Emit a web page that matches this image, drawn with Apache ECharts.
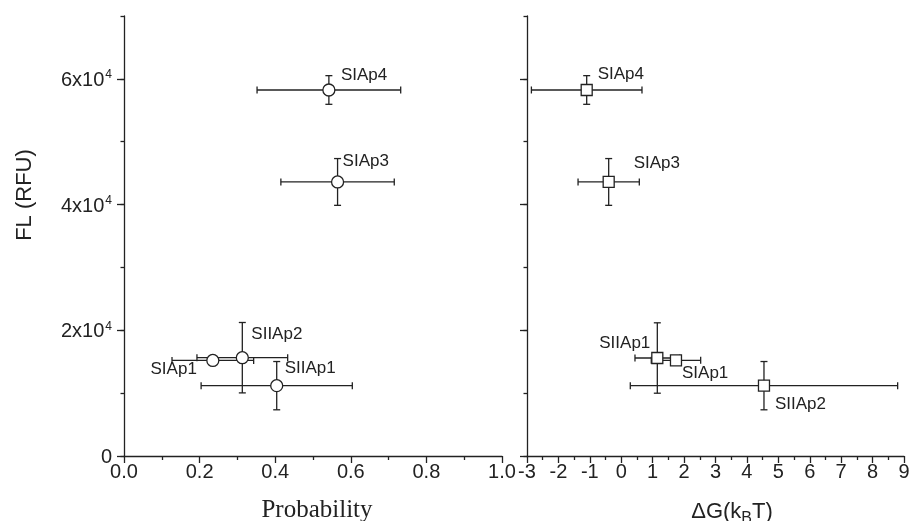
<!DOCTYPE html>
<html><head><meta charset="utf-8">
<script src="https://cdn.jsdelivr.net/npm/echarts@6/dist/echarts.min.js"></script>
<style>html,body{margin:0;padding:0;background:#fff}#c{width:910px;height:521px}</style>
</head><body><div id="c"></div>
<script>
// ---- data (left panel: Probability) ----
const namesL   = ['SIAp1', 'SIIAp2', 'SIIAp1', 'SIAp3', 'SIAp4'];
const probL    = [0.235, 0.313, 0.404, 0.565, 0.542];
const probErrL = [0.108, 0.120, 0.200, 0.150, 0.190];
const flL      = [15200, 15640, 11190, 43600, 58230];
const flErrL   = [300, 5600, 3840, 3720, 2280];
// ---- data (right panel: dG) ----
const namesR   = ['SIAp1', 'SIIAp1', 'SIIAp2', 'SIAp3', 'SIAp4'];
const dgR      = [1.742, 1.148, 4.543, -0.40, -1.10];
const dgErrR   = [0.786, 0.711, 4.255, 0.975, 1.760];
const flR      = [15220, 15590, 11190, 43600, 58230];
const flErrR   = [300, 5600, 3840, 3720, 2280];
// ---- tick values ----
const yMajorTicks = [0, 20000, 40000, 60000];

// ---- label placement (pixels relative to the marker) ----
const labelPlaceL = [[-16, 9, 'right'], [9, -23, 'left'], [8, -17, 'left'], [5, -21, 'left'], [12, -15, 'left']];
const labelPlaceR = [[6, 13, 'left'], [-7, -15, 'right'], [11, 19, 'left'], [25, -19, 'left'], [11, -16, 'left']];

const INK = '#222';
const SANS = 'Liberation Sans, Arial, sans-serif';
const SERIF = 'Liberation Serif, Times New Roman, serif';

function errRender(params, api) {
  const x = api.value(0), y = api.value(1), ex = api.value(2), ey = api.value(3);
  const l = api.coord([x - ex, y]), r = api.coord([x + ex, y]);
  const t = api.coord([x, y + ey]), b = api.coord([x, y - ey]);
  const cap = 3.5;
  const st = {stroke: INK, lineWidth: 1.3};
  const mk = (x1, y1, x2, y2) => ({type: 'line', shape: {x1, y1, x2, y2}, style: st});
  return {type: 'group', children: [
    mk(l[0], l[1], r[0], r[1]),
    mk(l[0], l[1] - cap, l[0], l[1] + cap),
    mk(r[0], r[1] - cap, r[0], r[1] + cap),
    mk(t[0], t[1], b[0], b[1]),
    mk(t[0] - cap, t[1], t[0] + cap, t[1]),
    mk(b[0] - cap, b[1], b[0] + cap, b[1])
  ]};
}

function yLabel(v) {
  if (v === 0) return '{a|0}';
  return '{a|' + (v / 10000) + 'x10}{s|4}';
}

function scatterData(names, xs, ys, place) {
  return names.map((n, i) => ({
    name: n, value: [xs[i], ys[i]],
    label: {offset: [place[i][0], place[i][1]], align: place[i][2]}
  }));
}

const axisLineStyle = {lineStyle: {color: INK, width: 1.3}};
const grids = [
  {left: 124, top: 16, width: 378, height: 440, outerBoundsMode: 'none', containLabel: false},
  {left: 527, top: 16, width: 377, height: 440, outerBoundsMode: 'none', containLabel: false}
];

function yAxes(gridIndex, withLabels) {
  return [
    {
      type: 'value', gridIndex, min: 0, max: 70000, position: 'left',
      axisLine: Object.assign({show: true, onZero: false}, axisLineStyle),
      splitLine: {show: false},
      axisTick: {show: true, customValues: yMajorTicks, length: 7, lineStyle: {color: INK, width: 1.3}},
      axisLabel: {
        show: withLabels, customValues: yMajorTicks, margin: 12, formatter: yLabel,
        rich: {
          a: {fontSize: 20, fontFamily: SANS, color: INK, lineHeight: 20, padding: [3, 0, 0, 0]},
          s: {fontSize: 12, fontFamily: SANS, color: INK, lineHeight: 12, verticalAlign: 'top', padding: [0, 0, 0, 1]}
        }
      },
      name: withLabels ? 'FL (RFU)' : '', nameLocation: 'middle', nameGap: 88,
      nameTextStyle: {fontSize: 22, fontFamily: SANS, color: INK, padding: [0, 0, 0, 82]}
    },
    {
      type: 'value', gridIndex, min: 0, max: 70000, interval: 10000, position: 'left',
      axisLine: {show: false, onZero: false}, splitLine: {show: false}, axisLabel: {show: false},
      axisTick: {show: true, length: 3.5, lineStyle: {color: INK, width: 1.3}}
    }
  ];
}

const option = {
  backgroundColor: '#fff',
  animation: false,
  grid: grids,
  xAxis: [
    {
      type: 'value', gridIndex: 0, min: 0, max: 1, interval: 0.2,
      axisLine: Object.assign({show: true, onZero: false}, axisLineStyle),
      splitLine: {show: false},
      axisTick: {show: true, length: 7, lineStyle: {color: INK, width: 1.3}},
      minorTick: {show: true, splitNumber: 2, length: 4, lineStyle: {color: INK, width: 1.3}},
      axisLabel: {fontSize: 20, fontFamily: SANS, color: INK, margin: 6, formatter: v => v.toFixed(1)},
      name: 'Probability', nameLocation: 'middle', nameGap: 42,
      nameTextStyle: {fontSize: 25, fontFamily: SERIF, color: INK, padding: [0, 0, 0, 8]}
    },
    {
      type: 'value', gridIndex: 1, min: -3, max: 9, interval: 1,
      axisLine: Object.assign({show: true, onZero: false}, axisLineStyle),
      splitLine: {show: false},
      axisTick: {show: true, length: 7, lineStyle: {color: INK, width: 1.3}},
      minorTick: {show: true, splitNumber: 2, length: 4, lineStyle: {color: INK, width: 1.3}},
      axisLabel: {fontSize: 20, fontFamily: SANS, color: INK, margin: 6},
      name: '{m|ΔG(k}{b|B}{m|T)}', nameLocation: 'middle', nameGap: 45,
      nameTextStyle: {
        padding: [0, 0, 0, 33],
        rich: {
          m: {fontSize: 22, fontFamily: SANS, color: INK, lineHeight: 22, verticalAlign: 'top'},
          b: {fontSize: 16, fontFamily: SANS, color: INK, lineHeight: 16, verticalAlign: 'top', padding: [10, 0, 0, 0]}
        }
      }
    }
  ],
  yAxis: [].concat(yAxes(0, true), yAxes(1, false)),
  series: [
    {
      type: 'custom', xAxisIndex: 0, yAxisIndex: 0, z: 2, renderItem: errRender,
      data: namesL.map((n, i) => [probL[i], flL[i], probErrL[i], flErrL[i]])
    },
    {
      type: 'custom', xAxisIndex: 1, yAxisIndex: 2, z: 2, renderItem: errRender,
      data: namesR.map((n, i) => [dgR[i], flR[i], dgErrR[i], flErrR[i]])
    },
    {
      type: 'scatter', xAxisIndex: 0, yAxisIndex: 0, z: 5, symbol: 'circle', symbolSize: 12,
      itemStyle: {color: '#fff', borderColor: INK, borderWidth: 1.3, opacity: 1},
      label: {show: true, position: 'inside', formatter: '{b}', fontSize: 17, fontFamily: SANS, color: INK, verticalAlign: 'middle'},
      emphasis: {disabled: true},
      data: scatterData(namesL, probL, flL, labelPlaceL)
    },
    {
      type: 'scatter', xAxisIndex: 1, yAxisIndex: 2, z: 5, symbol: 'rect', symbolSize: 11,
      itemStyle: {color: '#fff', borderColor: INK, borderWidth: 1.3, opacity: 1},
      label: {show: true, position: 'inside', formatter: '{b}', fontSize: 17, fontFamily: SANS, color: INK, verticalAlign: 'middle'},
      emphasis: {disabled: true},
      data: scatterData(namesR, dgR, flR, labelPlaceR)
    }
  ]
};

const chart = echarts.init(document.getElementById('c'), null, {renderer: 'canvas'});
chart.setOption(option);
</script>
</body></html>
